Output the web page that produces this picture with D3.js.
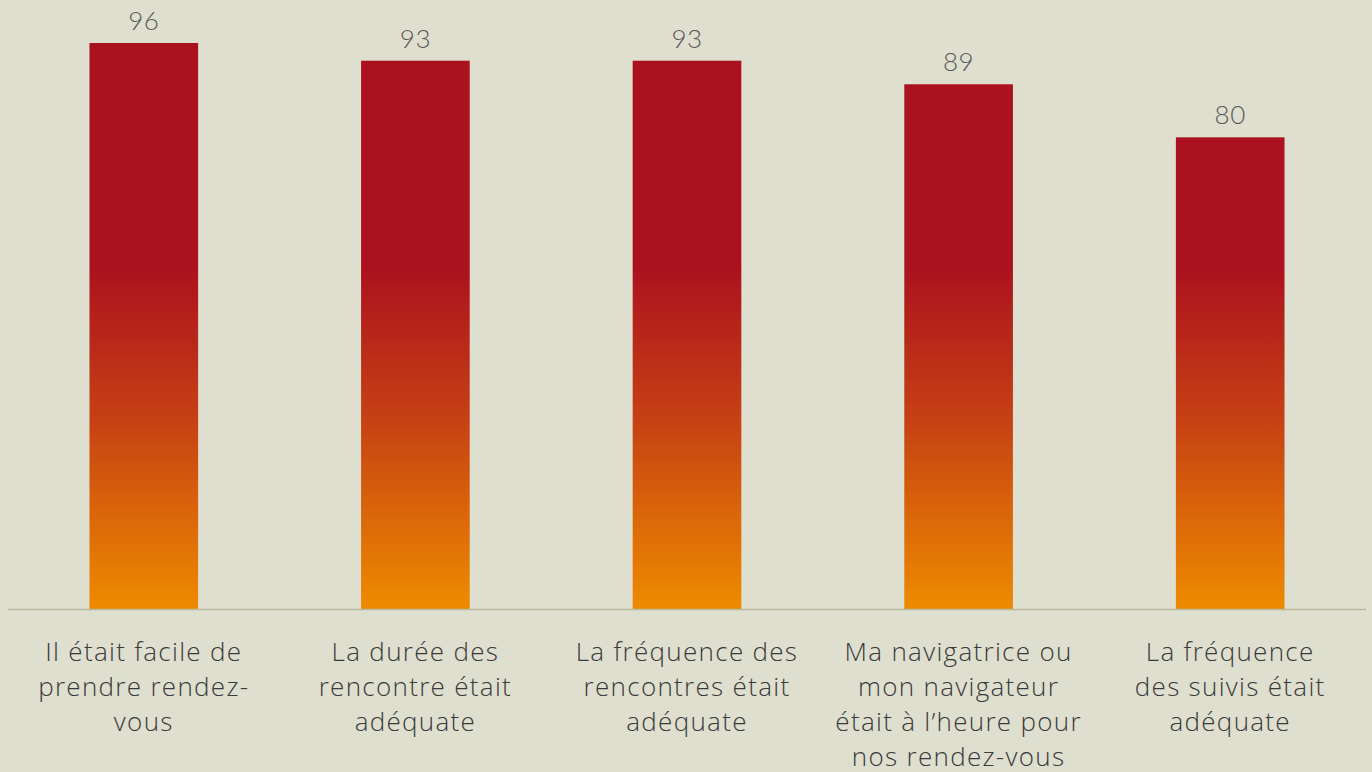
<!DOCTYPE html>
<html>
<head>
<meta charset="utf-8">
<script src="https://cdn.jsdelivr.net/npm/d3@7"></script>
<style>
  html, body { margin: 0; padding: 0; background: #dfdfcf; }
  svg { display: block; }
</style>
</head>
<body>
<script>
// data
var categories = [
  ["Il était facile de", "prendre rendez-", "vous"],
  ["La durée des", "rencontre était", "adéquate"],
  ["La fréquence des", "rencontres était", "adéquate"],
  ["Ma navigatrice ou", "mon navigateur", "était à l’heure pour", "nos rendez-vous"],
  ["La fréquence", "des suivis était", "adéquate"]
];
var values = [96, 93, 93, 89, 80];

var width = 1372,
    height = 772;
var baseY = 609;

var svg = d3.select("body")
    .append("svg")
    .attr("width", width)
    .attr("height", height);

var x = d3.scaleBand()
    .domain(d3.range(values.length))
    .range([8, 1366])
    .paddingInner(0.6)
    .paddingOuter(0.3);

var y = d3.scaleLinear()
    .domain([0, 96])
    .range([baseY, 43]);

// gradient shared by all bars (user space)
var grad = svg.append("defs").append("linearGradient")
    .attr("id", "barGrad")
    .attr("gradientUnits", "userSpaceOnUse")
    .attr("x1", 0).attr("x2", 0)
    .attr("y1", 265).attr("y2", baseY);
grad.append("stop").attr("offset", "0%").attr("stop-color", "#ab111e");
grad.append("stop").attr("offset", "45%").attr("stop-color", "#c64114");
grad.append("stop").attr("offset", "100%").attr("stop-color", "#ee8b00");

svg.selectAll(".bar")
    .data(values)
    .enter()
    .append("rect")
    .attr("class", "bar")
    .attr("x", function(d, i){ return x(i); })
    .attr("y", function(d){ return y(d); })
    .attr("width", x.bandwidth())
    .attr("height", function(d){ return baseY - y(d); })
    .attr("fill", "url(#barGrad)");

// baseline
svg.append("line")
    .attr("x1", 8).attr("x2", 1366)
    .attr("y1", baseY + 0.5).attr("y2", baseY + 0.5)
    .attr("stroke", "#b9b89b")
    .attr("stroke-width", 1.5);

// value labels
svg.selectAll(".val")
    .data(values)
    .enter()
    .append("text")
    .attr("class", "val")
    .attr("x", function(d, i){ return x(i) + x.bandwidth() / 2; })
    .attr("y", function(d){ return y(d) - 13; })
    .attr("text-anchor", "middle")
    .attr("font-family", "Lato, 'Open Sans', sans-serif")
    .attr("font-weight", 300)
    .attr("font-size", 26)
    .attr("letter-spacing", 0.5)
    .attr("fill", "#595959")
    .text(function(d){ return d; });

// category labels
var cat = svg.selectAll(".cat")
    .data(categories)
    .enter()
    .append("text")
    .attr("class", "cat")
    .attr("text-anchor", "middle")
    .attr("font-family", "'Open Sans', Lato, sans-serif")
    .attr("font-weight", 300)
    .attr("font-size", 26)
    .attr("letter-spacing", 1.3)
    .attr("fill", "#3a3a3a");

cat.selectAll("tspan")
    .data(function(d, i){ return d.map(function(t){ return {t: t, i: i}; }); })
    .enter()
    .append("tspan")
    .attr("x", function(d){ return x(d.i) + x.bandwidth() / 2; })
    .attr("y", function(d, j){ return 661 + j * 35; })
    .text(function(d){ return d.t; });
</script>
</body>
</html>
